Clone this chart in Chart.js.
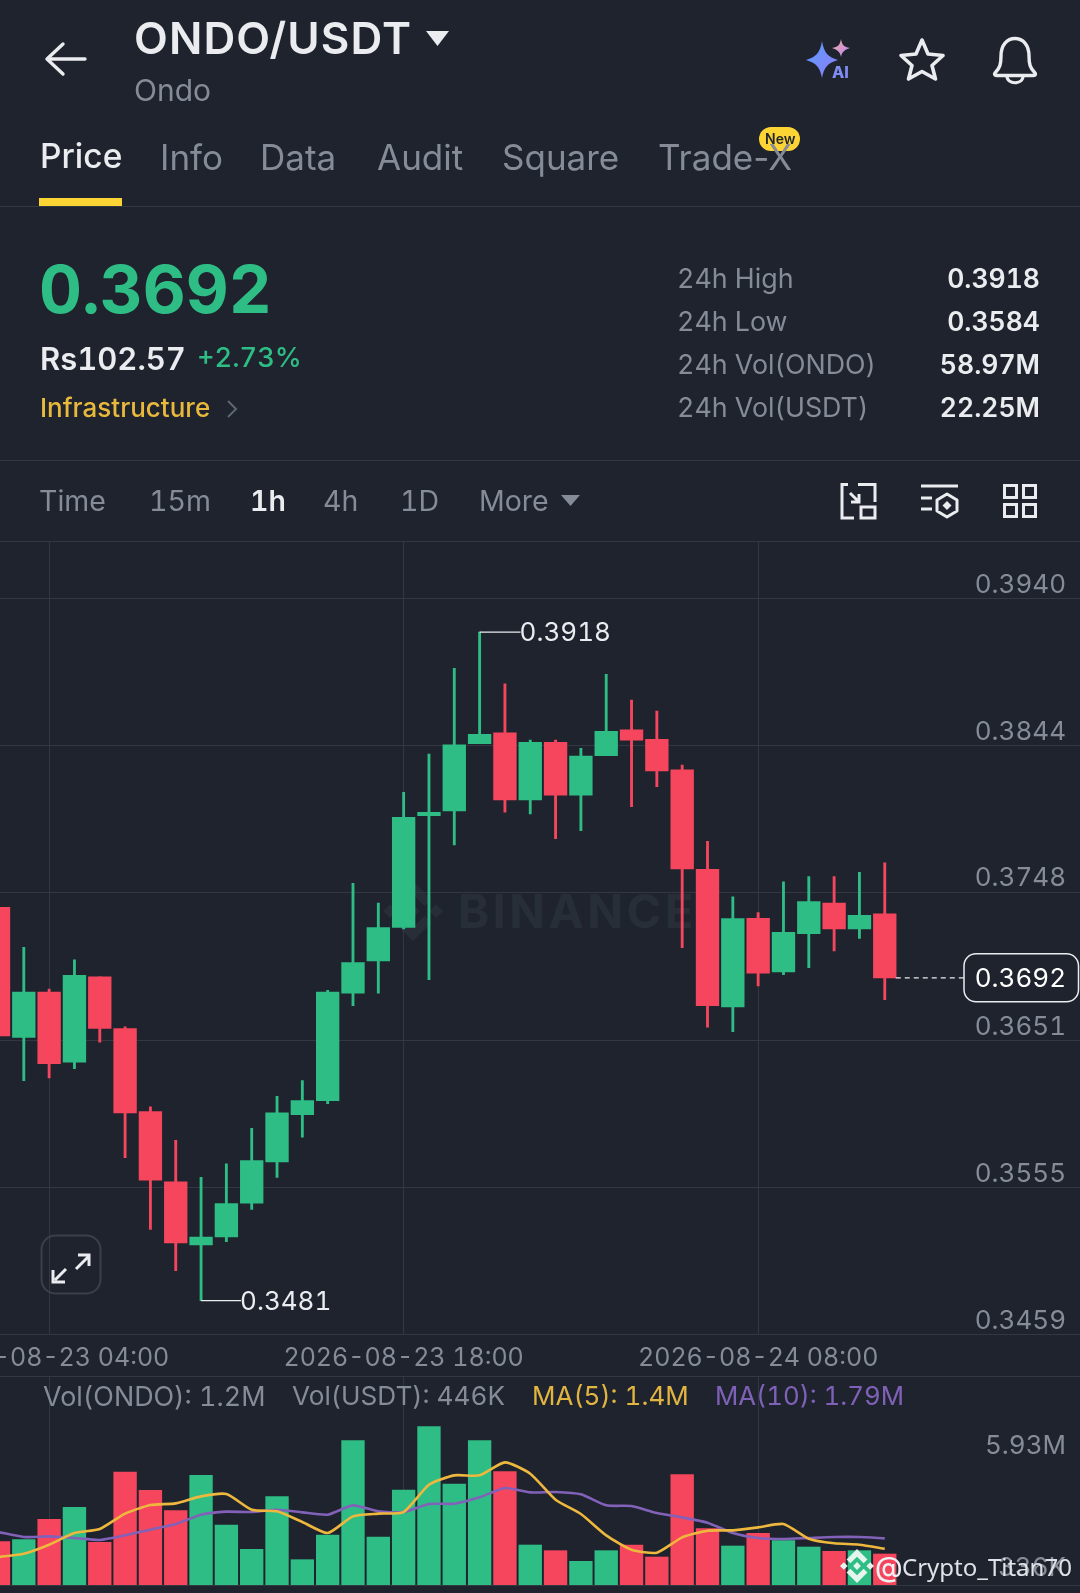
<!DOCTYPE html>
<html>
<head>
<meta charset="utf-8">
<title>ONDO/USDT</title>
<script src="https://cdn.jsdelivr.net/npm/chart.js@4/dist/chart.umd.min.js"></script>
<style>
  html, body { margin: 0; padding: 0; background: #1e232d; }
  #page { position: relative; width: 1080px; height: 1593px; overflow: hidden; background: #1e232d; font-family: Inter, sans-serif; font-feature-settings: 'tnum'; }
  .t { position: absolute; transform: translateY(-50%); line-height: 1; white-space: nowrap; color: #858c98; }
  .r { text-align: right; }
  .n { font-feature-settings: normal; }
  .line { position: absolute; left: 0; width: 1080px; height: 1px; background: #323842; }
  canvas { position: absolute; left: 0; display: block; }
  svg { position: absolute; left: 0; top: 0; }
</style>
</head>
<body>
<div id="page">
  <svg width="1080" height="1593" style="z-index:0">
    <defs>
      <symbol id="bnb" viewBox="0 0 126.61 126.61">
        <path d="M38.73 53.2l24.59-24.58 24.6 24.6 14.3-14.31L63.32 0 24.43 38.9zM0 63.31l14.3-14.31 14.31 14.31-14.31 14.3zM38.73 73.41l24.59 24.59 24.6-24.6 14.31 14.29-38.9 38.91-38.91-38.88-.02-.02zM98 63.31l14.31-14.31 14.3 14.3-14.31 14.31zM77.83 63.3L63.32 48.78 52.59 59.51l-1.24 1.23-2.54 2.54 14.51 14.5 14.51-14.47z"/>
      </symbol>
    </defs>
    <use href="#bnb" x="383" y="881" width="60" height="60" fill="#282e38"/>
  </svg>
  <div class="t" style="left:458px;top:910px;font-size:47px;font-weight:700;letter-spacing:3.5px;color:#282e38;z-index:0">BINANCE</div>

  <div class="line" style="top:206px"></div>
  <div class="line" style="top:460px"></div>
  <div class="line" style="top:541px"></div>
  <div class="line" style="top:1376px"></div>
  <div class="line" style="top:1585px"></div>

  <canvas id="priceChart" width="1080" height="836" style="top:541px;z-index:1"></canvas>
  <canvas id="volumeChart" width="1080" height="209" style="top:1376px;z-index:1"></canvas>

  <svg width="1080" height="1593" style="z-index:2;pointer-events:none">
    <defs>
      <linearGradient id="ai1" x1="0" y1="0" x2="1" y2="1"><stop offset="0" stop-color="#5b9dfb"/><stop offset="1" stop-color="#8f7cf6"/></linearGradient>
      <linearGradient id="ai2" x1="0" y1="0" x2="1" y2="1"><stop offset="0" stop-color="#f6a6a0"/><stop offset="1" stop-color="#b48cf5"/></linearGradient>
    </defs>
    <!-- back arrow -->
    <path d="M47 59H85M63 44L47 59L63 74" fill="none" stroke="#eaecef" stroke-width="3.4" stroke-linecap="round" stroke-linejoin="round"/>
    <!-- title caret -->
    <path d="M426 31H449L437.5 46Z" fill="#eaecef"/>
    <!-- AI star -->
    <path d="M822 41C824 53 828 57 838 60C828 63 824 67 822 78C820 67 816 63 806 60C816 57 820 53 822 41Z" fill="url(#ai1)"/>
    <path d="M841 39C842 45 844 47 850 48C844 50 842 52 841 57C840 52 838 50 832 48C838 47 840 45 841 39Z" fill="url(#ai2)"/>
    <!-- star -->
    <path d="M922 40L928 54L943 55.500L932 65.500L935.500 79L922 71.500L908.500 79L912 65.500L901 55.500L916 54Z" fill="none" stroke="#eaecef" stroke-width="3.6" stroke-linejoin="round"/>
    <!-- bell -->
    <path d="M995 73C1000 68 1001 64 1001 56C1001 45 1007 38.500 1015 38.500C1023 38.500 1029 45 1029 56C1029 64 1030 68 1035 73C1036 74.500 1035 75.500 1033 75.500H997C995 75.500 994 74.500 995 73Z" fill="none" stroke="#eaecef" stroke-width="3.4" stroke-linejoin="round"/>
    <path d="M1007 76C1007 85 1023 85 1023 76" fill="none" stroke="#eaecef" stroke-width="3.2"/>
    <!-- tab underline -->
    <rect x="39" y="198" width="83" height="8" fill="#fcd535"/>
    <!-- New badge -->
    <rect x="759" y="127" width="41" height="24" rx="12" fill="#fcd535"/>
    <!-- chevron -->
    <path d="M228 401L236 409L228 417" fill="none" stroke="#5e6673" stroke-width="2"/>
    <!-- More caret -->
    <path d="M561 495H580L570.500 506Z" fill="#858c98"/>
    <!-- layout icon -->
    <path d="M858 484.500H875V502M854 518H842V484.500H848" fill="none" stroke="#eaecef" stroke-width="3"/>
    <path d="M850 493L859 502M859 494V502H851" fill="none" stroke="#eaecef" stroke-width="3"/>
    <rect x="861" y="507" width="14" height="11" fill="none" stroke="#eaecef" stroke-width="3"/>
    <!-- indicator icon -->
    <path d="M921 486H958M921 498H932M921 509H932" fill="none" stroke="#eaecef" stroke-width="3"/>
    <path d="M947 494L957 500V511L947 517L937 511V500Z" fill="none" stroke="#eaecef" stroke-width="3" stroke-linejoin="round"/>
    <path d="M947 501L951.500 505.500L947 510L942.500 505.500Z" fill="#eaecef"/>
    <!-- grid icon -->
    <g fill="none" stroke="#eaecef" stroke-width="3">
      <rect x="1004.500" y="485.500" width="12" height="12"/><rect x="1023.500" y="485.500" width="12" height="12"/>
      <rect x="1004.500" y="504.500" width="12" height="12"/><rect x="1023.500" y="504.500" width="12" height="12"/>
    </g>
    <!-- expand button -->
    <rect x="41.500" y="1235.500" width="59" height="58" rx="14" fill="none" stroke="#3a404b" stroke-width="2"/>
    <path d="M76 1269L88 1257M78 1255H89V1266M66 1269L55 1280M53 1270V1282H65" fill="none" stroke="#eaecef" stroke-width="3"/>
    <!-- bottom watermark logo -->
    <use href="#bnb" x="840" y="1549" width="34" height="34" fill="#e4f5ee"/>
  </svg>

  <div style="position:absolute;left:0;top:0;width:1080px;z-index:3">
    <div class="t" style="left:134px;top:38px;font-size:44px;font-weight:600;letter-spacing:1.1px;color:#eaecef">ONDO/USDT</div>
    <div class="t" style="left:134px;top:90px;font-size:30px">Ondo</div>
    <div class="t" style="left:832px;top:72px;font-size:16px;font-weight:800;color:#7f8cf2">AI</div>

    <div class="t n" style="left:40px;top:157px;font-size:33.5px;font-weight:500;color:#eaecef">Price</div>
    <div class="t n" style="left:160px;top:157px;font-size:35px">Info</div>
    <div class="t n" style="left:260px;top:157px;font-size:35px">Data</div>
    <div class="t n" style="left:377px;top:157px;font-size:35px">Audit</div>
    <div class="t n" style="left:502px;top:157px;font-size:35px">Square</div>
    <div class="t n" style="left:658px;top:157px;font-size:35px">Trade-X</div>
    <div class="t n" style="left:765px;top:139px;font-size:14px;font-weight:600;color:#1e232d">New</div>

    <div class="t" style="left:39px;top:289px;font-size:66.5px;font-weight:700;color:#2ebd85">0.3692</div>
    <div class="t" style="left:40px;top:358px;font-size:31px;font-weight:600;color:#eaecef">Rs102.57</div>
    <div class="t" style="left:197px;top:358px;font-size:27.2px;font-weight:500;color:#2ebd85">+2.73%</div>
    <div class="t" style="left:40px;top:408px;font-size:26px;font-weight:500;color:#e9b93c">Infrastructure</div>

    <div class="t" style="left:677px;top:278px;font-size:26.8px">24h High</div>
    <div class="t" style="left:677px;top:321px;font-size:26.8px">24h Low</div>
    <div class="t" style="left:677px;top:364px;font-size:26.8px">24h Vol(ONDO)</div>
    <div class="t" style="left:677px;top:407px;font-size:26.8px">24h Vol(USDT)</div>
    <div class="t r" style="right:40px;top:278px;font-size:26.5px;font-weight:600;color:#eaecef">0.3918</div>
    <div class="t r" style="right:40px;top:321px;font-size:26.5px;font-weight:600;color:#eaecef">0.3584</div>
    <div class="t r" style="right:40px;top:364px;font-size:26.5px;font-weight:600;color:#eaecef">58.97M</div>
    <div class="t r" style="right:40px;top:407px;font-size:26.5px;font-weight:600;color:#eaecef">22.25M</div>

    <div class="t" style="left:39px;top:501px;font-size:28.5px">Time</div>
    <div class="t" style="left:149px;top:501px;font-size:28.5px">15m</div>
    <div class="t" style="left:250px;top:501px;font-size:28.5px;font-weight:600;color:#eaecef">1h</div>
    <div class="t" style="left:323px;top:501px;font-size:28.5px">4h</div>
    <div class="t" style="left:400px;top:501px;font-size:28.5px">1D</div>
    <div class="t" style="left:479px;top:501px;font-size:28.5px">More</div>

    <div class="t" style="left:43px;top:1396px;font-size:26.9px">Vol(ONDO): 1.2M</div>
    <div class="t" style="left:292px;top:1396px;font-size:26.2px">Vol(USDT): 446K</div>
    <div class="t" style="left:532px;top:1396px;font-size:26px;color:#e2b440">MA(5): 1.4M</div>
    <div class="t" style="left:715px;top:1396px;font-size:25.8px;color:#7f62b8">MA(10): 1.79M</div>

    <div class="t" style="left:875px;top:1567px;font-size:28px;font-weight:500;color:#eef1f4">@</div>
    <div class="t" style="left:902px;top:1567px;font-size:24px;font-family:'Noto Sans',sans-serif;color:#dfe3e8">Crypto_Titan70</div>
  </div>
</div>

<script>
// velas de 1h, lo que se ve en pantalla
const opens  = [0.37381,0.36531,0.36827,0.36368,0.36927,0.36588,0.36045,0.35586,0.35174,0.35226,0.35447,0.35716,0.36025,0.36117,0.36819,0.37030,0.37249,0.37980,0.38010,0.38450,0.38522,0.38082,0.38459,0.38113,0.38372,0.38540,0.38479,0.38280,0.37629,0.36729,0.37309,0.36958,0.37208,0.37409,0.37239,0.37339];
const closes = [0.36540,0.36827,0.36359,0.36937,0.36590,0.36037,0.35597,0.35187,0.35226,0.35444,0.35725,0.36037,0.36117,0.36827,0.37019,0.37248,0.37969,0.38002,0.38442,0.38512,0.38082,0.38459,0.38113,0.38370,0.38531,0.38473,0.38272,0.37631,0.36738,0.37307,0.36950,0.37218,0.37418,0.37239,0.37329,0.3692];
const highs  = [0.37381,0.37120,0.36847,0.37037,0.36927,0.36599,0.36076,0.35858,0.35616,0.35705,0.35937,0.36146,0.36248,0.36839,0.37538,0.37409,0.38133,0.38383,0.38943,0.3918,0.38842,0.38473,0.38473,0.38420,0.38904,0.38736,0.38664,0.38311,0.37812,0.37450,0.37346,0.37548,0.37581,0.37581,0.37610,0.37671];
const lows   = [0.36540,0.36248,0.36265,0.36326,0.36499,0.35744,0.35276,0.35006,0.3481,0.35195,0.35407,0.35616,0.35878,0.36097,0.36738,0.36819,0.37239,0.36908,0.37788,0.38450,0.38002,0.37991,0.37829,0.37882,0.38372,0.38039,0.38169,0.37117,0.36597,0.36568,0.36867,0.36940,0.36986,0.37095,0.37178,0.36777];

// volumen en millones de ONDO
const volumes = [1.667,1.744,2.526,2.987,1.641,4.346,3.641,2.859,4.218,2.308,1.372,3.397,0.974,1.923,5.551,1.846,3.654,6.090,3.885,5.551,4.359,1.538,1.321,0.910,1.321,1.538,1.077,4.244,2.167,1.500,1.987,1.705,1.462,1.295,1.321,1.192];
const ma5  = [1.077,1.205,1.551,2.000,2.154,2.744,3.077,3.141,3.410,3.500,2.897,2.833,2.423,2.000,2.641,2.744,2.808,3.859,4.218,4.218,4.718,4.282,3.282,2.731,1.910,1.359,1.244,1.833,2.090,2.103,2.218,2.346,1.782,1.603,1.551,1.397];
const ma10 = [2.038,1.846,1.872,1.808,1.731,1.910,2.128,2.346,2.705,2.821,2.808,2.897,2.795,2.705,3.064,2.833,2.808,3.115,3.128,3.372,3.731,3.564,3.577,3.487,3.064,3.038,2.769,2.603,2.397,2.000,1.808,1.769,1.808,1.846,1.846,1.795];

const priceTicks = [0.3940,0.3844,0.3748,0.3651,0.3555,0.3459];
const timeTickIdx = [2,16,30];
const timeLabels = ['2026-08-23 04:00','2026-08-23 18:00','2026-08-24 08:00'];
const volTicks = [5.93,0.336];
const volTickLabels = ['5.93M','336K'];

const GREEN = '#2ebd85';
const RED = '#f6465d';
const GRID = '#323842';
const AXIS_TEXT = '#858c98';
const FONT = 'Inter';

const xMin = 0.06, xMax = 42.71; // ventana visible de velas
const candleColor = opens.map((o, i) => closes[i] >= o ? GREEN : RED);

function noScalePadding(scale) {
    scale.paddingTop = scale.paddingBottom = scale.paddingLeft = scale.paddingRight = 0;
}

function xScaleOptions(showLabels) {
    return {
        type: 'linear',
        min: xMin,
        max: xMax,
        offset: false,
        afterBuildTicks: scale => { scale.ticks = timeTickIdx.map(v => ({ value: v })); },
        afterFit: scale => {
            scale.height = showLabels ? 42.7 : 0;
            noScalePadding(scale);
        },
        grid: { color: GRID, lineWidth: 1, drawTicks: false, offset: false },
        border: { display: false },
        ticks: {
            display: showLabels,
            color: AXIS_TEXT,
            font: { family: FONT, size: 25, lineHeight: '30px' },
            padding: 9,
            autoSkip: false,
            maxRotation: 0,
            minRotation: 0,
            callback: (value, index) => timeLabels[index]
        }
    };
}

// etiquetas de maximo/minimo y precio actual, sobre las escalas del grafico
const priceMarks = {
    id: 'priceMarks',
    afterDatasetsDraw(chart) {
        const { ctx, scales: { x, y } } = chart;
        const hi = Math.max(...highs), lo = Math.min(...lows);
        const hiX = x.getPixelForValue(highs.indexOf(hi)), hiY = y.getPixelForValue(hi);
        const loX = x.getPixelForValue(lows.indexOf(lo)), loY = y.getPixelForValue(lo);
        const last = closes[closes.length - 1];
        const lastX = x.getPixelForValue(closes.length - 1) + 11;
        const lastY = y.getPixelForValue(last);

        ctx.save();
        ctx.font = '26px ' + FONT;
        ctx.textBaseline = 'middle';
        ctx.textAlign = 'left';
        ctx.strokeStyle = '#eaecef';
        ctx.fillStyle = '#eaecef';
        ctx.lineWidth = 1.2;

        ctx.beginPath();
        ctx.moveTo(hiX, hiY); ctx.lineTo(hiX + 41, hiY);
        ctx.moveTo(loX, loY); ctx.lineTo(loX + 40, loY);
        ctx.stroke();
        ctx.fillText(hi.toFixed(4), hiX + 40, hiY + 1);
        ctx.fillText(lo.toFixed(4), loX + 39, loY + 2);

        ctx.setLineDash([5, 4]);
        ctx.beginPath();
        ctx.moveTo(lastX, lastY); ctx.lineTo(964, lastY);
        ctx.stroke();
        ctx.setLineDash([]);

        ctx.fillStyle = '#1e232d';
        ctx.lineWidth = 1.5;
        ctx.beginPath();
        ctx.roundRect(964, lastY - 24, 114.5, 48, 12);
        ctx.fill();
        ctx.stroke();
        ctx.fillStyle = '#ffffff';
        ctx.textAlign = 'right';
        ctx.fillText(last.toFixed(4), 1066, lastY + 1);
        ctx.restore();
    }
};

new Chart(document.getElementById('priceChart'), {
    type: 'bar',
    data: {
        datasets: [
            {
                label: 'Body',
                data: opens.map((o, i) => ({ x: i, y: [o, closes[i]] })),
                backgroundColor: candleColor,
                barThickness: 22.7,
                grouped: false,
                order: 1
            },
            {
                label: 'Wick',
                data: lows.map((l, i) => ({ x: i, y: [l, highs[i]] })),
                backgroundColor: candleColor,
                barThickness: 2.2,
                grouped: false,
                order: 2
            }
        ]
    },
    options: {
        responsive: false,
        animation: false,
        layout: { autoPadding: false, padding: 0 },
        plugins: { legend: { display: false }, tooltip: { enabled: false } },
        scales: {
            x: xScaleOptions(true),
            y: {
                position: 'right',
                min: 0.3459,
                max: 0.39775,
                afterBuildTicks: scale => { scale.ticks = priceTicks.map(v => ({ value: v })); },
                afterFit: scale => {
                    scale.width = 0;
                    noScalePadding(scale);
                },
                grid: { color: GRID, lineWidth: 1, drawTicks: false },
                border: { display: false },
                ticks: {
                    mirror: true,
                    padding: -14,
                    color: AXIS_TEXT,
                    font: { family: FONT, size: 26, lineHeight: '27px' },
                    callback: value => [value.toFixed(4), '']
                }
            }
        }
    },
    plugins: [priceMarks]
});

new Chart(document.getElementById('volumeChart'), {
    type: 'bar',
    data: {
        datasets: [
            {
                type: 'line',
                label: 'MA(5)',
                data: ma5.map((v, i) => ({ x: i, y: v })),
                borderColor: '#eeb83e',
                borderWidth: 2.6,
                pointRadius: 0,
                tension: 0.2,
                order: 0
            },
            {
                type: 'line',
                label: 'MA(10)',
                data: ma10.map((v, i) => ({ x: i, y: v })),
                borderColor: '#8261b8',
                borderWidth: 2.6,
                pointRadius: 0,
                tension: 0.2,
                order: 1
            },
            {
                label: 'Vol',
                data: volumes.map((v, i) => ({ x: i, y: v })),
                backgroundColor: candleColor,
                barThickness: 22.7,
                order: 2
            }
        ]
    },
    options: {
        responsive: false,
        animation: false,
        layout: { autoPadding: false, padding: 0 },
        plugins: { legend: { display: false }, tooltip: { enabled: false } },
        scales: {
            x: xScaleOptions(false),
            y: {
                position: 'right',
                min: 0,
                max: 8.04,
                afterBuildTicks: scale => { scale.ticks = volTicks.map(v => ({ value: v })); },
                afterFit: scale => {
                    scale.width = 0;
                    noScalePadding(scale);
                },
                grid: { display: false },
                border: { display: false },
                ticks: {
                    mirror: true,
                    padding: -14,
                    color: AXIS_TEXT,
                    font: ctx => ({ family: FONT, size: 26, lineHeight: ctx.index === 0 ? '30px' : '17px' }),
                    callback: (value, index) => index === 0 ? ['', volTickLabels[0]] : [volTickLabels[index], '']
                }
            }
        }
    }
});
</script>
</body>
</html>
